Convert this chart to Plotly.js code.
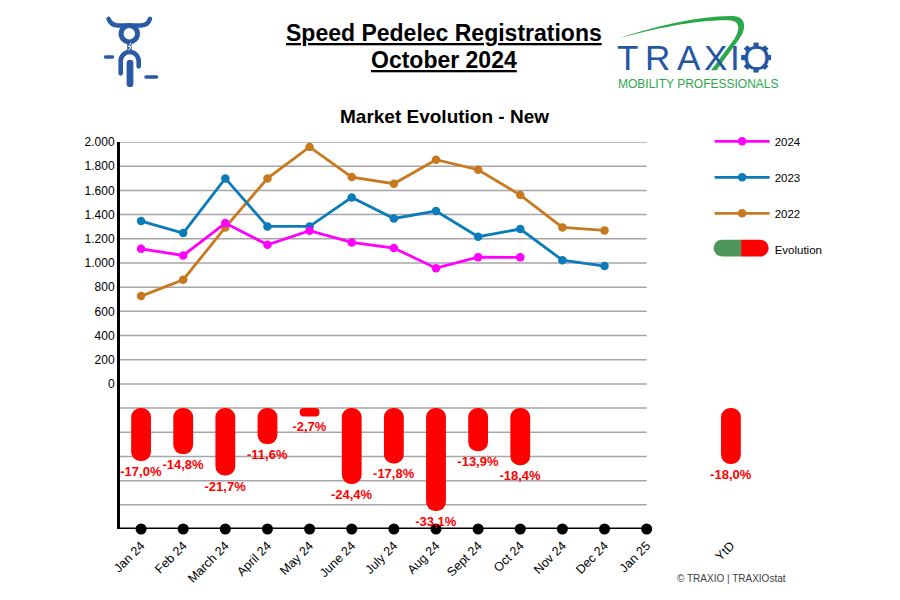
<!DOCTYPE html>
<html><head><meta charset="utf-8">
<script src="https://cdn.plot.ly/plotly-3.0.1.min.js"></script>
<style>html,body{margin:0;padding:0;background:#fff}#chart{width:900px;height:600px}</style>
</head><body><div id="chart"></div>
<script>
// ---- data ----
const months = ['Jan 24','Feb 24','March 24','April 24','May 24','June 24','July 24','Aug 24','Sept 24','Oct 24','Nov 24','Dec 24','Jan 25'];
const ytdLabel = 'YtD';
const reg2024 = [1117,1062,1330,1150,1266,1170,1123,957,1048,1046];
const reg2023 = [1346,1247,1699,1302,1302,1542,1368,1429,1217,1280,1023,974];
const reg2022 = [726,861,1294,1699,1959,1710,1655,1854,1771,1561,1294,1269];
const evolution = [-17.0,-14.8,-21.7,-11.6,-2.7,-24.4,-17.8,-33.1,-13.9,-18.4];
const evolutionYtd = -18.0;
const yTickVals = [0,200,400,600,800,1000,1200,1400,1600,1800,2000];
const gridVals = [-1000,-800,-600,-400,-200,0,200,400,600,800,1000,1200,1400,1600,1800,2000];

// ---- geometry ----
const W=900,H=600, ML=120, MT=141.7, MB=71;
const xRange=[-0.5,14.5], yRange=[-1200,2000];
const slot=42.16;
const PW=slot*(xRange[1]-xRange[0]);
const MR=W-ML-PW;
const PH=H-MT-MB;
const pxPerPct=3.11;
const barWidth=0.47;
const barBase=-200;
const basePxFromTop=(yRange[1]-barBase)*PH/(yRange[1]-yRange[0]);
const y2Range=[-(PH-basePxFromTop)/pxPerPct, basePxFromTop/pxPerPct];
const px=x=>(x-ML)/PW, py=y=>1+(MT-y)/PH;

const idx=months.map((_,i)=>i);
const ytdX=months.length+1;
const evoX=evolution.map((_,i)=>i).concat([ytdX]);
const evoV=evolution.concat([evolutionYtd]);
const fmt=v=>v.toFixed(1).replace('.',',')+'%';
const FONT='Liberation Sans, Arial, sans-serif';
const RED='#FF0000';

// bars shorter than their width get a smaller corner radius so they stay rounded
const barPx=barWidth*slot;
const isShort=v=>Math.abs(v)*pxPerPct<barPx;
const longI=evoV.map((v,i)=>i).filter(i=>!isShort(evoV[i]));
const shortI=evoV.map((v,i)=>i).filter(i=>isShort(evoV[i]));
const shortR=shortI.length?Math.floor(Math.min(...shortI.map(i=>Math.abs(evoV[i])*pxPerPct))/2):0;
const pillTrace=(ids,radius)=>({type:'bar',x:ids.map(i=>evoX[i]),base:ids.map(()=>0),y:ids.map(i=>evoV[i]),
  yaxis:'y2',width:barWidth,marker:{color:RED,cornerradius:radius,line:{width:0}},showlegend:false,hoverinfo:'skip',
  text:ids.map(i=>fmt(evoV[i])),textposition:'outside',constraintext:'none',cliponaxis:false,
  textfont:{family:FONT,size:13,color:RED,weight:'bold'}});

const traces=[
 pillTrace(longI,'50%'),
 pillTrace(shortI,shortR),
 {type:'scatter',mode:'lines+markers',name:'2022',x:idx.slice(0,reg2022.length),y:reg2022,
  line:{color:'#C8791F',width:2.8},marker:{color:'#C8791F',size:8.5},legendgroup:'c',legendrank:3},
 {type:'scatter',mode:'lines+markers',name:'2023',x:idx.slice(0,reg2023.length),y:reg2023,
  line:{color:'#0C7BBA',width:2.8},marker:{color:'#0C7BBA',size:8.5},legendgroup:'b',legendrank:2},
 {type:'scatter',mode:'lines+markers',name:'2024',x:idx.slice(0,reg2024.length),y:reg2024,
  line:{color:'#FF00FF',width:2.8},marker:{color:'#FF00FF',size:8.5},legendgroup:'a',legendrank:1},
 {type:'scatter',mode:'markers',x:idx,y:idx.map(()=>yRange[0]),marker:{color:'#000',size:11},
  cliponaxis:false,showlegend:false,hoverinfo:'skip'},
 {type:'scatter',mode:'lines',name:'Evolution',x:[0],y:[null],line:{width:0,color:'rgba(0,0,0,0)'},
  legendgroup:'d',legendrank:4,hoverinfo:'skip'}
];

const shapes=gridVals.map(v=>({type:'line',xref:'x',yref:'y',x0:xRange[0],x1:months.length-1,y0:v,y1:v,
  line:{color:'#A6A6A6',width:1.5},layer:'below'}));
shapes.push({type:'line',xref:'x',yref:'y',x0:xRange[0],x1:months.length-1,y0:yRange[0],y1:yRange[0],
  line:{color:'#000',width:3},layer:'between'});

const BLUE='#2A5AA6', LBLUE='#2456A4', GREEN='#2BA84A';
const svg=`<svg xmlns="http://www.w3.org/2000/svg" width="900" height="600" viewBox="0 0 900 600">
<g fill="none" stroke="${BLUE}" stroke-linecap="round">
<path d="M108.5,18.5 Q111,25 118,25 L141,25 Q148,25 150,18.5" stroke-width="4.5"/>
<circle cx="129.3" cy="33.3" r="8.2" stroke-width="5"/>
<path d="M120.7,73 L120.7,60.7 A9,9 0 0 1 138.7,60.7 L138.7,66" stroke-width="4.6"/>
<line x1="105.5" y1="56.7" x2="112.5" y2="56.7" stroke-width="3.5"/>
<line x1="146" y1="76.7" x2="156.5" y2="76.7" stroke-width="3.5"/>
</g>
<rect x="127.2" y="40" width="4.4" height="11" fill="${BLUE}"/>
<rect x="126.6" y="59.5" width="6.8" height="27.2" rx="3.4" fill="${BLUE}"/>
<path d="M131,42.5 L128.6,46.3 L131,46.3 L128.6,50" fill="none" stroke="#fff" stroke-width="1"/>
<path d="M617,38.5 C650,27 700,15 733,15.5 C747,16 747,28 740,38 L717,70 L711.5,70 L735,38 C740,30 741,21 731,20 C700,19 655,28 617,38.5 Z" fill="${GREEN}"/>
<g fill="${LBLUE}" transform="translate(756.5,57.2)">
${[0,45,90,135,180,225,270,315].map(a=>`<rect x="-2.6" y="-15" width="5.2" height="5" transform="rotate(${a})"/>`).join('')}
</g>
<path d="M722.3,239.6 A8.35,8.35 0 0 0 722.3,256.3 L741.5,256.3 L741.5,239.6 Z" fill="#50965A"/>
<path d="M741.5,239.6 L760.7,239.6 A8.35,8.35 0 0 1 760.7,256.3 L741.5,256.3 Z" fill="${RED}"/>
</svg>`;

const ann=(text,x,y,size,opts={})=>Object.assign({text,xref:'paper',yref:'paper',x:px(x),y:py(y),
  xanchor:'center',yanchor:'middle',showarrow:false,font:{family:FONT,size,color:'#000'}},opts);

const logoLetters=[['T',628.3],['R',658.3],['A',689],['X',716],['I',735.5],['O',756.5]];
const annotations=[
 ann('<b><u>Speed Pedelec Registrations</u></b>',444.5,33,23),
 ann('<b><u>October 2024</u></b>',444.5,59.5,23),
 ann('<b>Market Evolution - New</b>',445,116,19),
 ann('© TRAXIO | TRAXIOstat',731.5,579,10,{font:{family:FONT,size:10,color:'#404040'}}),
 ann('MOBILITY PROFESSIONALS',698.5,84,12,{font:{family:FONT,size:12,color:GREEN}}),
 ...logoLetters.map(([c,x])=>ann(c,x,57.3,35,{font:{family:FONT,size:35,color:LBLUE}}))
];

const layout={
 width:W,height:H,margin:{l:ML,r:MR,t:MT,b:MB,pad:0},
 paper_bgcolor:'#fff',plot_bgcolor:'#fff',
 separators:',.',
 font:{family:FONT,size:12,color:'#000'},
 barmode:'overlay',
 showlegend:true,
 legend:{x:px(710),y:py(126.5),xanchor:'left',yanchor:'top',font:{family:FONT,size:11.5,color:'#000'},
   tracegroupgap:17,traceorder:'grouped',itemwidth:55,bgcolor:'rgba(0,0,0,0)'},
 xaxis:{range:xRange,tickvals:idx.concat([ytdX]),ticktext:months.concat([ytdLabel]),tickangle:-45,
   showgrid:false,zeroline:false,showline:false,ticks:'',ticklabelstandoff:6,
   tickfont:{family:FONT,size:12.5,color:'#000'},fixedrange:true},
 yaxis:{range:yRange,tickvals:yTickVals,tickformat:',d',showgrid:false,zeroline:false,showline:true,
   linewidth:3,linecolor:'#000',ticks:'',tickfont:{family:FONT,size:12,color:'#000'},fixedrange:true},
 yaxis2:{range:y2Range,overlaying:'y',visible:false,fixedrange:true},
 shapes,annotations,
 images:[{source:'data:image/svg+xml;charset=utf-8,'+encodeURIComponent(svg),xref:'paper',yref:'paper',
   x:px(0),y:py(0),sizex:W/PW,sizey:H/PH,xanchor:'left',yanchor:'top',sizing:'stretch',layer:'above'}]
};
Plotly.newPlot('chart',traces,layout,{displayModeBar:false,staticPlot:true});
</script></body></html>
